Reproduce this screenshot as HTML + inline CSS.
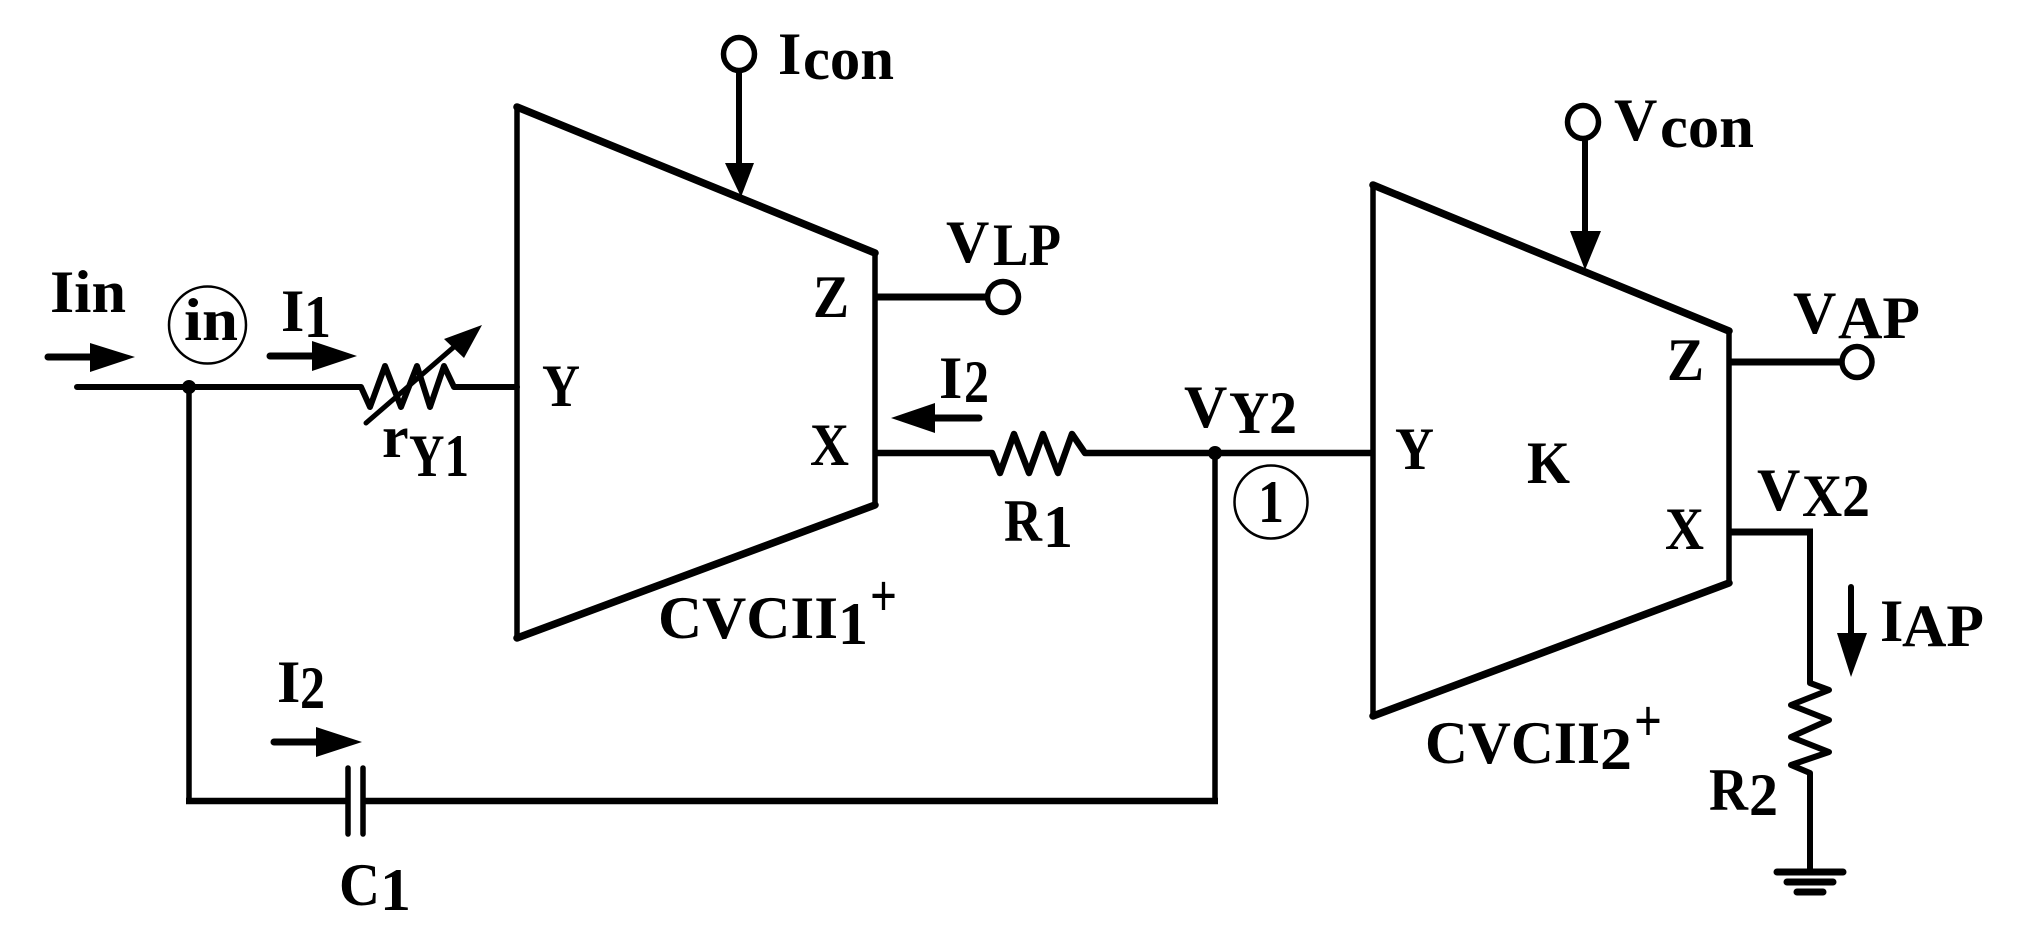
<!DOCTYPE html>
<html><head><meta charset="utf-8"><style>
html,body{margin:0;padding:0;background:#fff;width:2019px;height:941px;overflow:hidden}
svg{display:block}
text{font-family:"Liberation Serif",serif;font-weight:bold;font-size:60px;fill:#000}
</style></head><body>
<svg width="2019" height="941" viewBox="0 0 2019 941" xmlns="http://www.w3.org/2000/svg">
<rect width="2019" height="941" fill="#fff"/>
<g fill="none" stroke="#000" stroke-linejoin="miter">
<!-- CCII blocks -->
<path d="M517,107V638M875,253V505" stroke-width="5.5"/>
<path d="M517,107L875,253M875,505L517,638" stroke-width="7.5" stroke-linecap="round"/>
<path d="M1373,185V716M1729,331V583" stroke-width="5.5"/>
<path d="M1373,185L1729,331M1729,583L1373,716" stroke-width="7.5" stroke-linecap="round"/>
<!-- wires -->
<path d="M77,387H361L370,407L385,366L401,407L417,366L430,407L444,366L454,387H517" stroke-width="6" stroke-linecap="round" stroke-linejoin="round"/>
<path d="M189,387V801" stroke-width="5.5"/>
<path d="M186,801H348M363,801H1218" stroke-width="6.5"/>
<path d="M1215,453V801" stroke-width="5.5"/>
<path d="M875,453H992L1000,473L1014,434L1029,473L1043,434L1058,473L1072,434L1085,453H1373" stroke-width="6.5" stroke-linejoin="round"/>
<path d="M875,297H986M1729,362H1841" stroke-width="7"/>
<path d="M1729,532H1813" stroke-width="7"/>
<path d="M1810,532V683L1829,690L1791,705L1829,720L1791,737L1829,752L1791,765L1810,773V870" stroke-width="6" stroke-linejoin="round"/>
<path d="M739,72V170M1585,141V240M1851,587V640" stroke-width="6" stroke-linecap="round"/>
<!-- capacitor plates -->
<path d="M348,768V834M363,768V834" stroke-width="5.5" stroke-linecap="round"/>
<!-- ground -->
<path d="M1777,872H1843M1787,882H1833M1797,892H1823" stroke-width="7" stroke-linecap="round"/>
<!-- terminals -->
<ellipse cx="739" cy="54" rx="15.5" ry="16.5" stroke-width="5.5" fill="#fff"/>
<ellipse cx="1583" cy="122" rx="15.5" ry="16.5" stroke-width="5.5" fill="#fff"/>
<ellipse cx="1003" cy="297" rx="15.5" ry="15.5" stroke-width="5.5" fill="#fff"/>
<ellipse cx="1857" cy="362" rx="15" ry="15.5" stroke-width="5.5" fill="#fff"/>
<!-- node rings -->
<ellipse cx="207.5" cy="325" rx="38.5" ry="38.5" stroke-width="2.5"/>
<ellipse cx="1271" cy="502" rx="36.5" ry="36.5" stroke-width="2.5"/>
<!-- current arrows tails -->
<path d="M48,357H95M270,356H316M935,418H979M274,742H320" stroke-width="7" stroke-linecap="round"/>
<!-- variable arrow -->
<path d="M366,423L455,346" stroke-width="5" stroke-linecap="round"/>
</g>
<g fill="#000">
<circle cx="189" cy="387" r="7"/>
<circle cx="1215" cy="453" r="7"/>
<polygon points="90,343 90,372 135,357"/>
<polygon points="312,341 312,371 357,356"/>
<polygon points="935,403 935,433 891,418"/>
<polygon points="316,727 316,757 362,742"/>
<polygon points="725,163 754,163 741,197"/>
<polygon points="1570,231 1601,231 1585,270"/>
<polygon points="1837,633 1867,633 1851,677"/>
<polygon points="444,339 464,358 482,325"/>
</g>
<!-- labels -->
<text x="778" y="74">I</text><text x="803" y="79" textLength="91" lengthAdjust="spacingAndGlyphs">con</text>
<text x="1614" y="140">V</text><text x="1660" y="147" textLength="94" lengthAdjust="spacingAndGlyphs">con</text>
<text x="946" y="262">V</text><text x="993" y="265" textLength="68" lengthAdjust="spacingAndGlyphs">LP</text>
<text x="813" y="317" textLength="36" lengthAdjust="spacingAndGlyphs">Z</text>
<text x="50" y="312" textLength="76" lengthAdjust="spacingAndGlyphs">Iin</text>
<text x="184" y="340" textLength="54" lengthAdjust="spacingAndGlyphs">in</text>
<text x="281" y="331">I</text><text x="304" y="337" textLength="27" lengthAdjust="spacingAndGlyphs">1</text>
<text x="542" y="406" textLength="38" lengthAdjust="spacingAndGlyphs">Y</text>
<text x="939" y="398">I</text><text x="964" y="402" textLength="25" lengthAdjust="spacingAndGlyphs">2</text>
<text x="810" y="465" textLength="39" lengthAdjust="spacingAndGlyphs">X</text>
<text x="382" y="457">r</text><text x="409" y="476" textLength="60" lengthAdjust="spacingAndGlyphs">Y1</text>
<text x="1004" y="541" textLength="38" lengthAdjust="spacingAndGlyphs">R</text><text x="1043" y="547" textLength="30" lengthAdjust="spacingAndGlyphs">1</text>
<text x="1184" y="427">V</text><text x="1229" y="433" textLength="68" lengthAdjust="spacingAndGlyphs">Y2</text>
<text x="1258" y="522" textLength="26" lengthAdjust="spacingAndGlyphs">1</text>
<text x="1395" y="469" textLength="39" lengthAdjust="spacingAndGlyphs">Y</text>
<text x="1527" y="483" textLength="43" lengthAdjust="spacingAndGlyphs">K</text>
<text x="1667" y="380" textLength="37" lengthAdjust="spacingAndGlyphs">Z</text>
<text x="1793" y="333">V</text><text x="1838" y="338" textLength="82" lengthAdjust="spacingAndGlyphs">AP</text>
<text x="1757" y="510">V</text><text x="1802" y="516" textLength="68" lengthAdjust="spacingAndGlyphs">X2</text>
<text x="1665" y="549" textLength="39" lengthAdjust="spacingAndGlyphs">X</text>
<text x="1880" y="641">I</text><text x="1902" y="646" textLength="82" lengthAdjust="spacingAndGlyphs">AP</text>
<text x="1709" y="810" textLength="39" lengthAdjust="spacingAndGlyphs">R</text><text x="1749" y="815" textLength="29" lengthAdjust="spacingAndGlyphs">2</text>
<text x="658" y="638" textLength="180" lengthAdjust="spacingAndGlyphs">CVCII</text><text x="838" y="644" textLength="30" lengthAdjust="spacingAndGlyphs">1</text><text x="870" y="616" textLength="27" lengthAdjust="spacingAndGlyphs">+</text>
<text x="1425" y="763" textLength="175" lengthAdjust="spacingAndGlyphs">CVCII</text><text x="1600" y="769" textLength="32" lengthAdjust="spacingAndGlyphs">2</text><text x="1634" y="741" textLength="28" lengthAdjust="spacingAndGlyphs">+</text>
<text x="277" y="702">I</text><text x="300" y="708" textLength="25" lengthAdjust="spacingAndGlyphs">2</text>
<text x="339" y="905" textLength="41" lengthAdjust="spacingAndGlyphs">C</text><text x="380" y="910" textLength="31" lengthAdjust="spacingAndGlyphs">1</text>
</svg>
</body></html>
